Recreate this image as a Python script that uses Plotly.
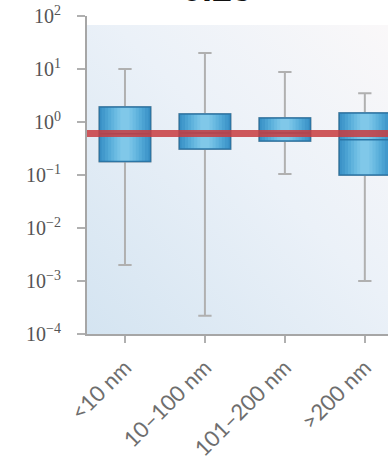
import base64
import plotly.graph_objects as go

# ---- data ----
categories = ["<10 nm", "10–100 nm", "101–200 nm", ">200 nm"]
lower_whisker = [0.002, 0.00022, 0.105, 0.001]
q1_values = [0.18, 0.31, 0.44, 0.10]
median_values = [0.60, 0.62, 0.62, 0.46]
q3_values = [1.92, 1.42, 1.19, 1.48]
upper_whisker = [10.0, 20.0, 8.8, 3.5]
reference_value = 0.61
title_text = "0.25"
y_tick_values = [1e-4, 1e-3, 1e-2, 1e-1, 1e0, 1e1, 1e2]
y_tick_labels = ["10<sup>−4</sup>", "10<sup>−3</sup>", "10<sup>−2</sup>", "10<sup>−1</sup>",
                 "10<sup>0</sup>", "10<sup>1</sup>", "10<sup>2</sup>"]

BOX_W = 0.64
fig = go.Figure()

# whiskers (gray)
fig.add_trace(go.Box(
    x=categories, q1=q1_values, median=median_values, q3=q3_values,
    lowerfence=lower_whisker, upperfence=upper_whisker,
    width=BOX_W, whiskerwidth=0.26, fillcolor="rgba(0,0,0,0)",
    line=dict(color="#b0b0b0", width=2), hoverinfo="skip", showlegend=False))

# layered fills for horizontal gradient (darker edges, lighter centre)
layers = [(1.00, "#3b93c8"), (0.90, "#4299cc"), (0.78, "#4ba2d2"), (0.66, "#55abd8"),
          (0.54, "#60b3dd"), (0.42, "#6bbbe2"), (0.30, "#76c2e6"), (0.18, "#80c8e9")]
for frac, col in layers:
    fig.add_trace(go.Box(
        x=categories, q1=q1_values, median=q1_values, q3=q3_values,
        lowerfence=q1_values, upperfence=q3_values,
        width=BOX_W * frac, whiskerwidth=0, fillcolor=col,
        line=dict(color=col, width=0), hoverinfo="skip", showlegend=False))

# outline + median
fig.add_trace(go.Box(
    x=categories, q1=q1_values, median=median_values, q3=q3_values,
    lowerfence=q1_values, upperfence=q3_values,
    width=BOX_W, whiskerwidth=0, fillcolor="rgba(0,0,0,0)",
    line=dict(color="#2b76a6", width=1.5), hoverinfo="skip", showlegend=False))

# background gradient (plot area)
svg = ('<svg xmlns="http://www.w3.org/2000/svg" width="100" height="100" preserveAspectRatio="none">'
       '<defs><linearGradient id="g" x1="0" y1="1" x2="1" y2="0">'
       '<stop offset="0" stop-color="rgb(212,228,241)"/>'
       '<stop offset="0.55" stop-color="rgb(235,241,248)"/>'
       '<stop offset="1" stop-color="rgb(250,248,249)"/>'
       '</linearGradient></defs><rect width="100" height="100" fill="url(#g)"/></svg>')
src = "data:image/svg+xml;base64," + base64.b64encode(svg.encode()).decode()
fig.add_layout_image(dict(source=src, xref="paper", yref="paper", x=0, y=0.972,
                          sizex=1, sizey=0.972, xanchor="left", yanchor="top",
                          sizing="stretch", layer="below"))

fig.add_shape(type="line", xref="paper", yref="y", x0=0, x1=1,
              y0=reference_value, y1=reference_value,
              line=dict(color="rgba(200,60,64,0.85)", width=7), layer="above")

fig.add_annotation(text="<b>" + title_text + "</b>", xref="paper", yref="paper",
                   x=0.432, y=1.016, xanchor="center", yanchor="bottom", showarrow=False,
                   font=dict(family="Liberation Sans", size=36, color="#111111"))

fig.update_layout(
    width=388, height=456, margin=dict(l=87, r=0, t=16, b=122),
    paper_bgcolor="white", plot_bgcolor="rgba(0,0,0,0)",
    boxmode="overlay", showlegend=False,
)
fig.update_xaxes(type="category", range=[-0.475, 3.29], showgrid=False, zeroline=False,
                 automargin=False,
                 showline=True, linecolor="#a6a6a6", linewidth=2,
                 ticks="outside", ticklen=7, tickwidth=2, tickcolor="#b0b0b0",
                 ticklabelstandoff=3,
                 tickangle=-45, tickfont=dict(family="Lato", size=22, color="#6e6e6e"))
fig.update_yaxes(type="log", range=[-4, 2], tickvals=y_tick_values, ticktext=y_tick_labels,
                 automargin=False,
                 showgrid=False, zeroline=False, showline=True, linecolor="#a6a6a6",
                 linewidth=2, ticks="outside", ticklen=8, tickwidth=2, tickcolor="#b0b0b0",
                 ticklabelstandoff=12,
                 tickfont=dict(family="Liberation Serif", size=20, color="#555555"))

fig.write_html("out.html")
